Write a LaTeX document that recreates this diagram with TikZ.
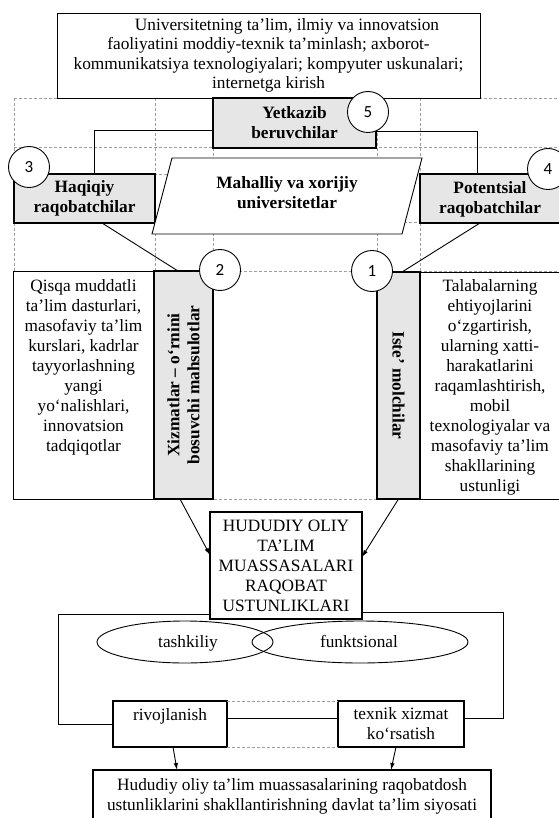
\documentclass[tikz,border=0pt]{standalone}
\usepackage{fontspec}
\setmainfont{Liberation Serif}
\newfontfamily\numfont{Carlito}
\usetikzlibrary{arrows.meta,shapes.geometric}
\definecolor{boxgray}{HTML}{E6E6E6}
\tikzset{
  gridline/.style={draw=gray!75, line width=0.6pt, dash pattern=on 3pt off 2pt},
  thinbox/.style={draw, line width=0.9pt, fill=white, rectangle},
  graybox/.style={draw, line width=2.6pt, fill=boxgray, rectangle},
  thickbox/.style={draw, line width=2.8pt, fill=white, rectangle},
  medbox/.style={draw, line width=2pt, fill=white, rectangle},
  numcircle/.style={circle, draw, line width=0.9pt, fill=white, minimum size=41pt, font=\numfont\fontsize{17}{17}\selectfont},
  conn/.style={line width=0.9pt},
  arr/.style={line width=0.9pt, -{Latex[length=7pt,width=4.5pt]}},
  txt/.style={font=\fontsize{17.3}{20}\selectfont, align=center},
  btxt/.style={font=\fontsize{17.3}{20}\selectfont\bfseries, align=center},
  oval/.style={ellipse, draw, line width=0.9pt}
}
\begin{document}
\begin{tikzpicture}[x=1pt,y=-1pt, every node/.style={inner sep=0pt, outer sep=0pt}]
\useasboundingbox (0,0) rectangle (558,818);
\fill[white] (0,0) rectangle (558,818);

% dashed table grid
\draw[gridline] (14,98) -- (558,98);
\draw[gridline] (14,147) -- (558,147);
\draw[gridline] (14,174) -- (558,174);
\draw[gridline] (14,222) -- (558,222);
\draw[gridline] (14,271) -- (558,271);
\draw[gridline] (14,499) -- (558,499);
\draw[gridline] (14,98) -- (14,271);
\draw[gridline] (155,98) -- (155,271);
\draw[gridline] (213,98) -- (213,499);
\draw[gridline] (377,98) -- (377,499);
\draw[gridline] (420,98) -- (420,271);

% top box
\node[thinbox, txt, minimum width=423pt, minimum height=85pt,
      font=\fontsize{17.3}{19.4}\selectfont] (top) at (268.5,55.5)
  {\hspace*{37pt}Universitetning ta’lim, ilmiy va innovatsion\\ faoliyatini moddiy-texnik ta’minlash; axborot-\\ kommunikatsiya texnologiyalari; kompyuter uskunalari;\\ internetga kirish};

% suppliers
\node[graybox, btxt, minimum width=163pt, minimum height=50pt] (yet) at (294.5,123) {Yetkazib\\ beruvchilar};

% competitors
\node[graybox, btxt, minimum width=141pt, minimum height=49pt] (haq) at (84.5,198.5) {Haqiqiy\\ raqobatchilar};
\node[graybox, minimum width=140pt, minimum height=49pt] (pot) at (490,198.5) {};
\node[btxt] (potT) at (490,199) {Potentsial\\ raqobatchilar};

% parallelogram
\draw[line width=0.9pt, fill=white] (172,158) -- (422,158) -- (402,234) -- (152,234) -- cycle;
\node[btxt] (mah) at (287,193) {Mahalliy va xorijiy\\ universitetlar};

% side boxes
\node[thinbox, minimum width=141pt, minimum height=228pt] (qis) at (83.5,385) {};
\node[txt, anchor=north] (qisT) at (83.5,279) {Qisqa muddatli\\ ta’lim dasturlari,\\ masofaviy ta’lim\\ kurslari, kadrlar\\ tayyorlashning\\ yangi\\ yo‘nalishlari,\\ innovatsion\\ tadqiqotlar};

\node[thinbox, minimum width=140pt, minimum height=227pt] (tal) at (490,385.5) {};
\node[txt, anchor=north] (talT) at (490,279) {Talabalarning\\ ehtiyojlarini\\ o‘zgartirish,\\ ularning xatti-\\ harakatlarini\\ raqamlashtirish,\\ mobil\\ texnologiyalar va\\ masofaviy ta’lim\\ shakllarining\\ ustunligi};

% rotated boxes (node east = canvas top for rotate=90; node west = canvas top for rotate=-90)
\node[graybox, btxt, rotate=90, minimum width=228pt, minimum height=59pt] (xiz) at (183.5,385) {Xizmatlar – o‘rnini\\ bosuvchi mahsulotlar};
\node[graybox, btxt, rotate=-90, minimum width=227pt, minimum height=43pt] (ist) at (398.5,385.5) {Iste’ molchilar};

% central box
\node[thickbox, txt, minimum width=152pt, minimum height=107pt] (hud) at (286,565.5) {HUDUDIY OLIY\\ TA’LIM\\ MUASSASALARI\\ RAQOBAT\\ USTUNLIKLARI};

% ellipses
\node[oval, minimum width=176pt, minimum height=42pt] (tash) at (185,642) {};
\node[oval, minimum width=216pt, minimum height=42pt] (funk) at (360,642) {};
\node[txt] (tashT) at (188,643) {tashkiliy};
\node[txt] (funkT) at (359,641) {funktsional};

% lower boxes
\node[medbox, minimum width=114pt, minimum height=46pt] (riv) at (170,724) {};
\node[txt, anchor=north] (rivT) at (170,708) {rivojlanish};
\node[medbox, txt, minimum width=126pt, minimum height=46pt] (tex) at (401,724) {texnik xizmat\\ ko‘rsatish};

\node[thickbox, txt, minimum width=398pt, minimum height=52pt] (bot) at (292,796) {Hududiy oliy ta’lim muassasalarining raqobatdosh\\ ustunliklarini shakllantirishning davlat ta’lim siyosati};

% connectors
\coordinate (e1) at (94,130);
\coordinate (e2) at (477,131);
\draw[conn] (e1 -| yet.west) -- (e1) -- (e1 |- haq.north);
\draw[conn] (e2 -| yet.east) -- (e2) -- (e2 |- pot.north);
\draw[conn] ([xshift=17.5pt]haq.south) -- ([xshift=-5.5pt]xiz.east);
\draw[conn] ([xshift=-10pt]pot.south) -- ([xshift=3.5pt]ist.west);
\draw[arr] ([xshift=-3.5pt]xiz.west) -- ([yshift=10.5pt]hud.west);
\draw[arr] (ist.east) -- ([yshift=8.5pt]hud.east);

\coordinate (fl) at (58,614);
\coordinate (fr) at (503,612);
\coordinate (te) at ([yshift=6pt]tex.east);
\coordinate (tw) at ([yshift=6pt]tex.west);
\coordinate (re) at ([yshift=6pt]riv.east);
\draw[conn] (fl -| hud.west) -- (fl) -- (fl |- riv.west) -- (riv.west);
\draw[conn] (fr -| hud.east) -- (fr) -- (fr |- te) -- (te);
\draw[conn] (re) -- (tw);
\draw[gridline] (riv.north east) -- (tex.north west);
\draw[gridline] (riv.south east) -- (tex.south west);
\draw[arr] ([xshift=3pt]riv.south) -- ([xshift=-115pt]bot.north);
\draw[arr] ([xshift=-5pt]tex.south) -- ([xshift=99pt]bot.north);

% numbered circles
\node[numcircle] (c5) at (368,112) {5};
\node[numcircle] (c3) at (29,167) {3};
\node[numcircle] (c4) at (548,169) {4};
\node[numcircle] (c2) at (220,270) {2};
\node[numcircle] (c1) at (372,271) {1};
\end{tikzpicture}
\end{document}
